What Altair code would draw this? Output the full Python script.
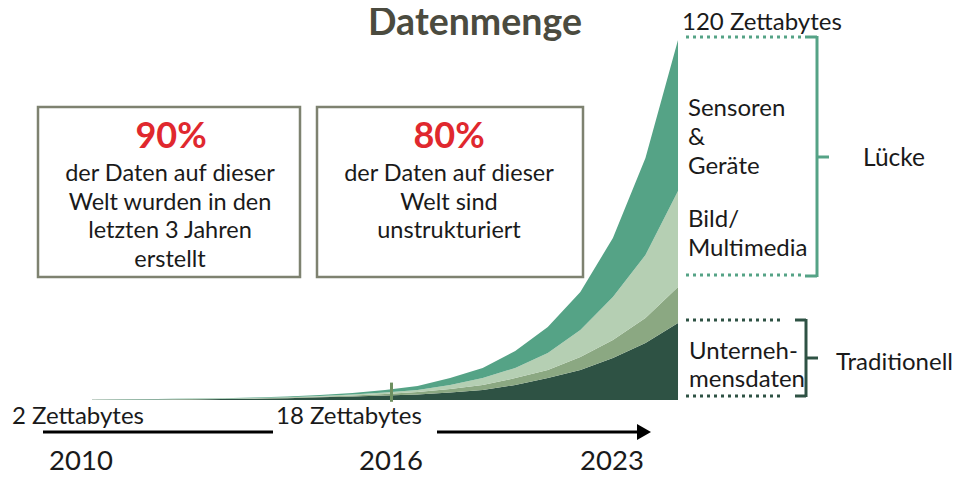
import altair as alt
import pandas as pd

# ---- data (Zettabytes per layer, stylised growth curve) ----
perioden = [0, 1, 2, 3, 4, 5, 6, 7, 8, 9, 10, 11, 12, 13, 14, 15, 16, 17, 18]
unternehmensdaten = [0.05, 0.1, 0.15, 0.2, 0.3, 0.4, 0.6, 0.9, 1.2, 1.5, 1.8, 2.5, 3.3, 5.0, 7.3, 10.0, 14.0, 19.0, 25.7]
sonstige_trad = [0.05, 0.05, 0.05, 0.1, 0.1, 0.1, 0.2, 0.15, 0.3, 0.5, 0.9, 1.2, 1.7, 2.3, 2.7, 4.3, 6.0, 8.3, 12.0]
bild_multimedia = [0.05, 0.05, 0.08, 0.1, 0.1, 0.15, 0.15, 0.25, 0.3, 0.5, 0.6, 1.3, 2.3, 3.4, 5.7, 9.0, 14.3, 21.0, 32.0]
sensoren_geraete = [0.05, 0.05, 0.07, 0.1, 0.1, 0.15, 0.25, 0.4, 0.5, 0.8, 1.4, 2.3, 3.4, 5.6, 8.6, 12.7, 19.7, 32.4, 50.3]

kategorien = ["Unternehmensdaten", "Sonstige", "Bild/Multimedia", "Sensoren & Geräte"]
farben = ["#2E5244", "#8BA882", "#B5CFB3", "#55A386"]
serien = [unternehmensdaten, sonstige_trad, bild_multimedia, sensoren_geraete]

marker_2016 = [{"t": 9.2, "y": -0.6, "y2": 5.8}]

rows = []
for rang, (kat, werte) in enumerate(zip(kategorien, serien)):
    for t, w in zip(perioden, werte):
        rows.append({"t": t, "wert": w, "kategorie": kat, "rang": rang})
df = pd.DataFrame(rows)

FONT = "Lato"
TXT = "#1a1a1a"
XS = alt.Scale(domain=[-2.580, 26.508], nice=False, zero=False)
YS = alt.Scale(domain=[-24.667, 130.667], nice=False, zero=False)

dummy = pd.DataFrame({"a": [0]})


def P(v):
    # page pixel -> plot pixel
    return alt.value(v - 8)


def text(s, x, y, size=23.5, color=TXT, weight="normal", align="left", baseline="middle", lh=None):
    kw = dict(font=FONT, fontSize=size, color=color, fontWeight=weight, align=align, baseline=baseline)
    if lh is not None:
        kw["lineHeight"] = lh
    return alt.Chart(dummy).mark_text(**kw).encode(x=P(x), y=P(y), text=alt.value(s))


def rule(x1, y1, x2, y2, color, width=3, dash=None):
    kw = dict(color=color, strokeWidth=width)
    if dash is not None:
        kw["strokeDash"] = dash
    return alt.Chart(dummy).mark_rule(**kw).encode(x=P(x1), y=P(y1), x2=P(x2), y2=P(y2))


def box(x1, y1, x2, y2):
    return alt.Chart(dummy).mark_rect(fill="white", stroke="#7E8270", strokeWidth=2.5).encode(
        x=P(x1), y=P(y1), x2=P(x2), y2=P(y2))


area = alt.Chart(df).mark_area(interpolate="linear").encode(
    x=alt.X("t:Q", scale=XS, axis=None),
    y=alt.Y("wert:Q", stack="zero", scale=YS, axis=None),
    color=alt.Color("kategorie:N", scale=alt.Scale(domain=kategorien, range=farben), legend=None),
    order=alt.Order("rang:Q", sort="ascending"),
)

marker = alt.Chart(alt.Data(values=marker_2016)).mark_rule(color="#6E9060", strokeWidth=3).encode(
    x=alt.X("t:Q", scale=XS, axis=None),
    y=alt.Y("y:Q", scale=YS, axis=None),
    y2="y2:Q",
)

TEAL = "#55A386"
DARK = "#2E5244"
DOT = [3, 4]

layers = [
    box(38, 107, 300, 277),
    box(317, 107, 583, 277),
    area,
    marker,
    # title
    text("Datenmenge", 475, 35, size=37.5, color="#4B4B3F", weight="bold", align="center", baseline="alphabetic"),
    # box texts
    text("90%", 171, 137, size=36, color="#E0282E", weight="bold", align="center"),
    text(["der Daten auf dieser", "Welt wurden in den", "letzten 3 Jahren", "erstellt"], 170, 174, align="center", lh=28.7),
    text("80%", 449, 137, size=36, color="#E0282E", weight="bold", align="center"),
    text(["der Daten auf dieser", "Welt sind", "unstrukturiert"], 449, 174, align="center", lh=28.7),
    # top label
    text("120 Zettabytes", 682, 29.5, size=24, baseline="alphabetic"),
    # Lücke bracket
    rule(686, 37, 801, 37, TEAL, dash=DOT),
    rule(686, 275, 801, 275, TEAL, dash=DOT),
    rule(805, 37, 817, 37, TEAL),
    rule(805, 276, 817, 276, TEAL),
    rule(817, 36, 817, 277, TEAL),
    rule(817, 157, 829, 157, TEAL),
    text(["Sensoren", "&", "Geräte"], 688, 109, size=24, lh=29),
    text(["Bild/", "Multimedia"], 688, 220, size=24, lh=29),
    text("Lücke", 863, 159, size=24.5),
    # Traditionell bracket
    rule(686, 320, 783, 320, DARK, dash=DOT),
    rule(686, 396, 783, 396, DARK, dash=DOT),
    rule(795, 320, 806, 320, DARK),
    rule(795, 396, 806, 396, DARK),
    rule(806, 319, 806, 397, DARK),
    rule(806, 358, 818, 358, DARK),
    text(["Unterneh-", "mensdaten"], 689, 352, size=24, lh=28),
    text("Traditionell", 836, 363, size=24),
    # bottom arrow and labels
    rule(43, 432, 641, 432, "black", width=3),
    alt.Chart(dummy).mark_point(shape="triangle-right", filled=True, color="black", opacity=1, size=260).encode(
        x=P(644), y=P(432)),
    alt.Chart(dummy).mark_rect(fill="white").encode(x=P(273), x2=P(437), y=P(424), y2=P(440)),
    text("2 Zettabytes", 12, 417, size=24),
    text("18 Zettabytes", 276, 417, size=24),
    text("2010", 81, 462, size=27.5, align="center"),
    text("2016", 391, 462, size=27.5, align="center"),
    text("2023", 612, 462, size=27.5, align="center"),
]

chart = alt.layer(*layers).properties(
    width=947, height=466, padding=0, autosize=alt.AutoSizeParams(type="none"), background="white"
).configure_view(strokeWidth=0)

chart.save("out.html", embed_options={"renderer": "svg", "actions": False})
